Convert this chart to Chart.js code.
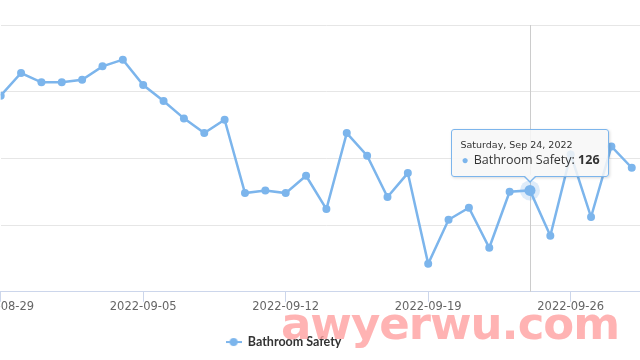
<!DOCTYPE html>
<html>
<head>
<meta charset="utf-8">
<script src="https://cdn.jsdelivr.net/npm/chart.js@4.4.1/dist/chart.umd.min.js"></script>
<style>
  html, body { margin: 0; padding: 0; background: #fff; }
  #wrap { position: relative; width: 640px; height: 360px; overflow: hidden; }
  #box { position: absolute; left: -90px; top: 0; width: 747px; height: 360px; }
  #tip {
    position: absolute; padding: 8px 8px; white-space: nowrap; color: #333;
    background: rgba(247, 247, 247, 0.85); border: 1px solid #7cb5ec; border-radius: 3px;
    box-shadow: 1px 1px 3px rgba(0, 0, 0, 0.15); pointer-events: none; opacity: 0;
  }
  #tip .hd { font: 9.5px/14px "DejaVu Sans", sans-serif; }
  #tip .bd { font: 12.5px/16px "Open Sans", sans-serif; }
  #tip .dot { color: #7cb5ec; font-size: 12px; margin-left: 1px; margin-right: 5px; }
  #tip::before, #tip::after {
    content: ""; position: absolute; left: 50%; width: 0; height: 0;
    border-left: 7px solid transparent; border-right: 7px solid transparent;
  }
  #tip::before { bottom: -7px; margin-left: -7px; border-top: 7px solid #7cb5ec; }
  #tip::after { bottom: -5px; margin-left: -6px; border-left-width: 6px; border-right-width: 6px; border-top: 6px solid #f7f7f7; }
  #mark {
    position: absolute; left: 281px; top: 301px; font: bold 45px/45px "DejaVu Sans", sans-serif;
    letter-spacing: -1px; color: rgba(255, 160, 160, 0.8); pointer-events: none;
  }
</style>
</head>
<body>
<div id="wrap">
  <div id="box">
    <canvas id="chart" width="747" height="360"></canvas>
    <div id="tip"><div class="hd"></div><div class="bd"></div></div>
  </div>
  <div id="mark">awyerwu.com</div>
</div>
<script>
const seriesName = 'Bathroom Safety';
const dates = [
  '2022-08-29', '2022-08-30', '2022-08-31', '2022-09-01', '2022-09-02', '2022-09-03', '2022-09-04',
  '2022-09-05', '2022-09-06', '2022-09-07', '2022-09-08', '2022-09-09', '2022-09-10', '2022-09-11',
  '2022-09-12', '2022-09-13', '2022-09-14', '2022-09-15', '2022-09-16', '2022-09-17', '2022-09-18',
  '2022-09-19', '2022-09-20', '2022-09-21', '2022-09-22', '2022-09-23', '2022-09-24', '2022-09-25',
  '2022-09-26', '2022-09-27', '2022-09-28', '2022-09-29'
];
const values = [
  197, 214, 207, 207, 209, 219, 224,
  205, 193, 180, 169, 179, 124, 126,
  124, 137, 112, 169, 152, 121, 139,
  71, 104, 113, 83, 125, 126, 92,
  153, 106, 159, 143
];
const tickDates = ['2022-08-29', '2022-09-05', '2022-09-12', '2022-09-19', '2022-09-26'];
const yTicks = [50, 100, 150, 200, 250];
const hoverDate = '2022-09-24';

const blue = '#7cb5ec';

// legend symbol: short line with a dot, like the original
const sym = document.createElement('canvas');
sym.width = 16; sym.height = 10;
const g = sym.getContext('2d');
g.strokeStyle = blue; g.lineWidth = 2;
g.beginPath(); g.moveTo(0, 5); g.lineTo(16, 5); g.stroke();
g.fillStyle = blue;
g.beginPath(); g.arc(8, 5, 4, 0, Math.PI * 2); g.fill();

// crosshair + halo under the hovered point
const hoverMarks = {
  id: 'hoverMarks',
  beforeDatasetsDraw(chart) {
    const act = chart.getActiveElements();
    if (!act.length) return;
    const { ctx, chartArea } = chart;
    const p = act[0].element;
    const x = Math.round(p.x) + 0.5;
    ctx.save();
    ctx.strokeStyle = '#cccccc';
    ctx.lineWidth = 1;
    ctx.beginPath();
    ctx.moveTo(x, chartArea.top);
    ctx.lineTo(x, chartArea.bottom);
    ctx.stroke();
    ctx.fillStyle = 'rgba(124, 181, 236, 0.25)';
    ctx.beginPath();
    ctx.arc(p.x, p.y, 10, 0, Math.PI * 2);
    ctx.fill();
    ctx.restore();
  }
};

function htmlTip(context) {
  const { tooltip } = context;
  const el = document.getElementById('tip');
  if (tooltip.opacity === 0 || !tooltip.dataPoints || !tooltip.dataPoints.length) {
    el.style.opacity = 0;
    return;
  }
  const dp = tooltip.dataPoints[0];
  const d = new Date(dates[dp.dataIndex] + 'T00:00:00');
  el.querySelector('.hd').textContent = d.toLocaleDateString('en-US', {
    weekday: 'long', month: 'short', day: 'numeric', year: 'numeric'
  });
  el.querySelector('.bd').innerHTML =
    '<span class="dot">\u25CF</span>' + seriesName + ': <b>' + dp.parsed.y + '</b>';
  el.style.opacity = 1;
  el.style.left = (tooltip.caretX - el.offsetWidth / 2) + 'px';
  el.style.top = (tooltip.caretY - 13 - el.offsetHeight) + 'px';
}

const chart = new Chart(document.getElementById('chart'), {
  type: 'line',
  data: {
    datasets: [{
      label: seriesName,
      data: values.map((v, i) => ({ x: i, y: v })),
      borderColor: blue,
      backgroundColor: blue,
      borderWidth: 2.5,
      tension: 0,
      pointRadius: 4,
      pointBorderWidth: 0,
      pointHoverRadius: 5.5,
      pointHoverBorderWidth: 0,
      pointHoverBackgroundColor: blue
    }]
  },
  options: {
    responsive: false,
    animation: false,
    events: [],
    layout: { padding: { top: 25, right: 0, bottom: 1.7, left: 0 } },
    interaction: { mode: 'index', intersect: false },
    scales: {
      x: {
        type: 'linear',
        min: 0,
        max: 31.97,
        afterBuildTicks: (s) => { s.ticks = tickDates.map(t => ({ value: dates.indexOf(t) })); },
        afterFit: (s) => { s.height = 34; },
        ticks: {
          callback: (v) => dates[v],
          color: '#666666',
          font: { family: 'DejaVu Sans', size: 11.5 },
          padding: -2,
          maxRotation: 0
        },
        grid: { drawOnChartArea: false, drawTicks: true, tickLength: 10, tickColor: '#ccd6eb' },
        border: { color: '#ccd6eb', width: 1 }
      },
      y: {
        min: 50,
        max: 250,
        afterBuildTicks: (s) => { s.ticks = yTicks.map(v => ({ value: v })); },
        afterFit: (s) => { s.width = 90.7; },
        ticks: { display: false },
        grid: { color: '#e6e6e6', drawTicks: false },
        border: { display: false }
      }
    },
    plugins: {
      legend: {
        position: 'bottom',
        labels: {
          usePointStyle: true,
          pointStyle: sym,
          pointStyleWidth: 16,
          boxWidth: 16,
          padding: 10,
          color: '#333333',
          font: { family: 'Lato', size: 12.5, weight: 'bold' }
        }
      },
      tooltip: { enabled: false, external: htmlTip }
    }
  },
  plugins: [hoverMarks]
});

const hi = dates.indexOf(hoverDate);
const pt = chart.getDatasetMeta(0).data[hi];
chart.setActiveElements([{ datasetIndex: 0, index: hi }]);
chart.tooltip.setActiveElements([{ datasetIndex: 0, index: hi }], { x: pt.x, y: pt.y });
chart.update();
</script>
</body>
</html>
